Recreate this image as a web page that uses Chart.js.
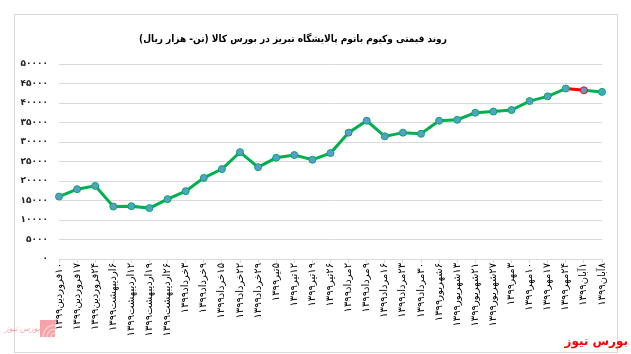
<!DOCTYPE html>
<html>
<head>
<meta charset="utf-8">
<script src="https://cdn.jsdelivr.net/npm/chart.js@4.4.1/dist/chart.umd.min.js"></script>
<style>
  html, body { margin: 0; padding: 0; background: #fff; }
  #wrap { width: 631px; height: 354px; position: relative; }
</style>
</head>
<body>
<div id="wrap"><canvas id="chart" width="631" height="354"></canvas></div>
<script>
// === Données ===
const titleText = 'روند قیمتی وکیوم باتوم پالایشگاه تبریز در بورس کالا (تن- هزار ریال)';
const sourceText = 'بورس نیوز';

const dates = [
    '۱۰فروردین۱۳۹۹', '۱۷فروردین۱۳۹۹', '۲۴فروردین۱۳۹۹', '۶اردیبهشت۱۳۹۹',
    '۱۲اردیبهشت۱۳۹۹', '۱۹اردیبهشت۱۳۹۹', '۲۶اردیبهشت۱۳۹۹', '۳خرداد۱۳۹۹',
    '۹خرداد۱۳۹۹', '۱۵خرداد۱۳۹۹', '۲۲خرداد۱۳۹۹', '۲۹خرداد۱۳۹۹',
    '۵تیر۱۳۹۹', '۱۲تیر۱۳۹۹', '۱۹تیر۱۳۹۹', '۲۶تیر۱۳۹۹',
    '۲مرداد۱۳۹۹', '۹مرداد۱۳۹۹', '۱۶مرداد۱۳۹۹', '۲۳مرداد۱۳۹۹',
    '۳۰مرداد۱۳۹۹', '۶شهریور۱۳۹۹', '۱۳شهریور۱۳۹۹', '۲۱شهریور۱۳۹۹',
    '۲۷شهریور۱۳۹۹', '۳مهر۱۳۹۹', '۱۰مهر۱۳۹۹', '۱۷مهر۱۳۹۹',
    '۲۴مهر۱۳۹۹', '۱آبان۱۳۹۹', '۸آبان۱۳۹۹'
];

const prices = [
    16000, 17900, 18750, 13450, 13550, 13050, 15350, 17400,
    20800, 23050, 27400, 23550, 25950, 26650, 25450, 27150,
    32400, 35450, 31450, 32400, 32100, 35450, 35700, 37500,
    37800, 38200, 40500, 41700, 43700, 43250, 42850
];

const yTicks = [0, 5000, 10000, 15000, 20000, 25000, 30000, 35000, 40000, 45000, 50000];

// segment mis en évidence (en rouge)
const redSegment = 28;

const GREEN = '#00b050';
const RED = '#ff0000';
const FONT = "'DejaVu Sans', sans-serif";
const FONT_C = "'DejaVu Sans Condensed', 'DejaVu Sans', sans-serif";

function toFa(n) {
    return String(n).replace(/\d/g, d => '۰۱۲۳۴۵۶۷۸۹'[d]);
}
const rtl = s => '\u200F' + s + '\u200F';

// === Cadre, titre et filigrane ===
const decor = {
    id: 'decor',
    beforeDraw(chart) {
        const c = chart.ctx;
        c.save();
        c.fillStyle = '#fff';
        c.fillRect(0, 0, chart.width, chart.height);
        c.strokeStyle = '#d9d9d9';
        c.lineWidth = 1;
        c.strokeRect(14.5, 14.5, 603, 338);
        c.restore();
    },
    afterDraw(chart) {
        const c = chart.ctx;
        c.save();
        c.fillStyle = '#000';
        c.font = 'bold 10px ' + FONT_C;
        c.textAlign = 'center';
        c.textBaseline = 'middle';
        c.fillText(rtl(titleText), 293, 39);

        c.fillStyle = RED;
        c.font = 'bold 12px ' + FONT;
        c.textAlign = 'right';
        c.fillText(rtl(sourceText), 628, 342);

        // petit logo pâle en bas à gauche
        c.globalAlpha = 0.45;
        c.fillStyle = '#e8323c';
        c.fillRect(40, 320, 15, 17);
        c.strokeStyle = '#fff';
        c.lineWidth = 1.5;
        [4, 8, 12].forEach(r => {
            c.beginPath();
            c.arc(55, 337, r, Math.PI, 1.5 * Math.PI);
            c.stroke();
        });
        c.fillStyle = '#e8323c';
        c.font = 'italic 8px ' + FONT;
        c.fillText(rtl(sourceText), 40, 329);
        c.restore();
    }
};

new Chart(document.getElementById('chart'), {
    type: 'line',
    data: {
        labels: dates.map(rtl),
        datasets: [{
            data: prices,
            borderColor: GREEN,
            borderWidth: 3,
            tension: 0,
            pointRadius: 3.5,
            pointBackgroundColor: '#5b9bd5',
            pointBorderColor: ctx => ctx.dataIndex === redSegment + 1 ? RED : GREEN,
            pointBorderWidth: 1,
            segment: {
                borderColor: ctx => ctx.p0DataIndex === redSegment ? RED : GREEN
            }
        }]
    },
    options: {
        responsive: false,
        animation: false,
        layout: { padding: { top: 64, right: 29, left: 0, bottom: 0 } },
        plugins: {
            legend: { display: false },
            tooltip: { enabled: false }
        },
        scales: {
            x: {
                offset: false,
                grid: { drawOnChartArea: false, drawTicks: true, tickLength: 4, color: '#d9d9d9' },
                border: { display: true, color: '#d9d9d9' },
                ticks: {
                    autoSkip: false,
                    minRotation: 90,
                    maxRotation: 90,
                    padding: 0,
                    color: '#000',
                    font: { family: FONT, size: 10 }
                },
                afterFit: s => { s.height = 95; }
            },
            y: {
                min: 0,
                max: 50000,
                afterBuildTicks: s => { s.ticks = yTicks.map(v => ({ value: v })); },
                grid: { color: '#d9d9d9', drawTicks: false },
                border: { display: false },
                ticks: {
                    padding: 11,
                    color: '#222',
                    font: { family: FONT, size: 9, weight: 'bold' },
                    callback: v => toFa(v)
                },
                afterFit: s => { s.width = 59; }
            }
        }
    },
    plugins: [decor]
});
</script>
</body>
</html>
